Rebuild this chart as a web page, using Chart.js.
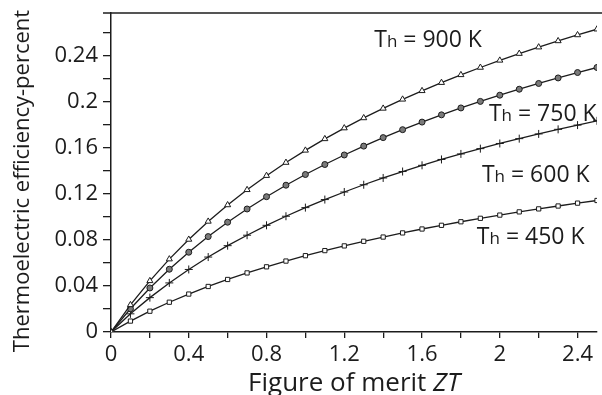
<!DOCTYPE html>
<html>
<head>
<meta charset="utf-8">
<script src="https://cdn.jsdelivr.net/npm/chart.js@4.4.1/dist/chart.umd.min.js"></script>
<style>
  html, body { margin: 0; padding: 0; background: #fff; }
  #wrap { width: 602px; height: 395px; position: relative; }
</style>
</head>
<body>
<div id="wrap"><canvas id="effChart"></canvas></div>
<script>
// Figure of merit ZT (x) and efficiency
const ztValues = [0, 0.1, 0.2, 0.3, 0.4, 0.5, 0.6, 0.7, 0.8, 0.9, 1.0, 1.1, 1.2,
                  1.3, 1.4, 1.5, 1.6, 1.7, 1.8, 1.9, 2.0, 2.1, 2.2, 2.3, 2.4, 2.5];
const eff900 = [0, 0.0236, 0.0445, 0.0634, 0.0805, 0.0962, 0.1105, 0.1237, 0.1360, 0.1474,
                0.1580, 0.1680, 0.1774, 0.1862, 0.1945, 0.2024, 0.2098, 0.2169, 0.2237,
                0.2301, 0.2363, 0.2422, 0.2478, 0.2532, 0.2584, 0.2634];
const eff750 = [0, 0.0202, 0.0383, 0.0546, 0.0694, 0.0830, 0.0955, 0.1070, 0.1177, 0.1277,
                0.1370, 0.1457, 0.1540, 0.1617, 0.1691, 0.1760, 0.1826, 0.1889, 0.1949,
                0.2006, 0.2060, 0.2112, 0.2162, 0.2210, 0.2257, 0.2301];
const eff600 = [0, 0.0158, 0.0299, 0.0427, 0.0544, 0.0652, 0.0751, 0.0842, 0.0928, 0.1007,
                0.1082, 0.1152, 0.1218, 0.1281, 0.1340, 0.1396, 0.1450, 0.1501, 0.1549,
                0.1595, 0.1640, 0.1682, 0.1723, 0.1763, 0.1800, 0.1837];
const eff450 = [0, 0.0095, 0.0181, 0.0259, 0.0330, 0.0396, 0.0457, 0.0514, 0.0567, 0.0617,
                0.0664, 0.0708, 0.0749, 0.0789, 0.0826, 0.0862, 0.0896, 0.0928, 0.0959,
                0.0989, 0.1017, 0.1045, 0.1071, 0.1096, 0.1121, 0.1144];

const seriesNames = ['900 K', '750 K', '600 K', '450 K'];
const xTickLabels = [0, 0.4, 0.8, 1.2, 1.6, 2, 2.4];
const yTickLabels = [0, 0.04, 0.08, 0.12, 0.16, 0.2, 0.24];

const X_MAX = 2.5;
const Y_MAX = 0.2775;
const INK = '#1c1c1c';
const FONT = '"Open Sans", "DejaVu Sans", sans-serif';

function toPoints(values) {
    return ztValues.map((x, i) => ({ x: x, y: values[i] }));
}

function majorLabel(value, majors) {
    const hit = majors.find(m => Math.abs(m - value) < 1e-6);
    return hit === undefined ? '' : String(hit);
}

// major ticks plus a minor tick between each pair, kept inside the axis range,
// and a silent tick at the axis end
function withMinors(majors, max) {
    const step = majors[1] - majors[0];
    const out = [];
    majors.forEach(m => {
        out.push({ value: m });
        const minor = +(m + step / 2).toFixed(4);
        if (minor < max) out.push({ value: minor });
    });
    out.push({ value: max });
    return out;
}

// curve labels, placed in data units (left edge, vertical centre)
const curveLabels = [
    { text: seriesNames[0], x: 1.354, y: 0.254 },
    { text: seriesNames[1], x: 1.944, y: 0.1896 },
    { text: seriesNames[2], x: 1.908, y: 0.1365 },
    { text: seriesNames[3], x: 1.882, y: 0.0826 }
];

const annotatePlugin = {
    id: 'annotate',
    afterDraw(chart) {
        const { ctx, chartArea, scales } = chart;
        ctx.save();

        // top frame line (with its little outer tick)
        ctx.strokeStyle = INK;
        ctx.lineWidth = 1.5;
        ctx.beginPath();
        ctx.moveTo(chartArea.left - 8, chartArea.top);
        ctx.lineTo(chart.width, chartArea.top);
        ctx.stroke();

        // "Th = ... K" labels
        ctx.fillStyle = INK;
        ctx.textBaseline = 'middle';
        ctx.textAlign = 'left';
        curveLabels.forEach(lab => {
            let px = scales.x.getPixelForValue(lab.x);
            const py = scales.y.getPixelForValue(lab.y);
            ctx.font = '23px ' + FONT;
            ctx.fillText('T', px, py);
            px += ctx.measureText('T').width;
            ctx.font = '17px ' + FONT;
            ctx.fillText('h', px, py + 2);
            px += ctx.measureText('h').width;
            ctx.font = '23px ' + FONT;
            ctx.fillText(' = ' + lab.text, px, py);
        });

        // y axis title
        ctx.save();
        ctx.translate(23, 181);
        ctx.rotate(-Math.PI / 2);
        ctx.textAlign = 'center';
        ctx.textBaseline = 'middle';
        ctx.font = '22px ' + FONT;
        ctx.fillText('Thermoelectric efficiency-percent', 0, 0);
        ctx.restore();

        // x axis title with italic ZT
        const part1 = 'Figure of merit ';
        const part2 = 'ZT';
        ctx.textBaseline = 'alphabetic';
        ctx.font = '26px ' + FONT;
        const w1 = ctx.measureText(part1).width;
        ctx.font = 'italic 26px ' + FONT;
        const w2 = ctx.measureText(part2).width;
        const sx = 354 - (w1 + w2) / 2;
        ctx.font = '26px ' + FONT;
        ctx.fillText(part1, sx, 391);
        ctx.font = 'italic 26px ' + FONT;
        ctx.fillText(part2, sx + w1, 391);

        ctx.restore();
    }
};

const lineStyle = {
    borderColor: INK,
    borderWidth: 1.3,
    pointBorderColor: INK,
    pointBorderWidth: 1,
    showLine: true,
    tension: 0
};

// hide the tick mark that sits on the axis end
function tickColour(max) {
    return c => (c.tick && Math.abs(c.tick.value - max) < 1e-6) ? 'rgba(0,0,0,0)' : INK;
}

const ctx = document.getElementById('effChart').getContext('2d');
const effChart = new Chart(ctx, {
    type: 'scatter',
    data: {
        datasets: [
            Object.assign({ label: seriesNames[0], data: toPoints(eff900),
                pointStyle: 'triangle', pointRadius: 3.5, pointBackgroundColor: '#fff' }, lineStyle),
            Object.assign({ label: seriesNames[1], data: toPoints(eff750),
                pointStyle: 'circle', pointRadius: 3, pointBackgroundColor: '#7a7a7a' }, lineStyle),
            Object.assign({ label: seriesNames[2], data: toPoints(eff600),
                pointStyle: 'cross', pointRadius: 4, pointBackgroundColor: INK }, lineStyle),
            Object.assign({ label: seriesNames[3], data: toPoints(eff450),
                pointStyle: 'rect', pointRadius: 3, pointBackgroundColor: '#fff' }, lineStyle)
        ]
    },
    options: {
        responsive: true,
        maintainAspectRatio: false,
        animation: false,
        layout: { padding: { top: 13, right: 3.5, left: 0, bottom: 0 } },
        plugins: {
            legend: { display: false },
            tooltip: { enabled: false }
        },
        scales: {
            x: {
                type: 'linear',
                min: 0,
                max: X_MAX,
                afterFit: scale => {
                    scale.height = 63;
                    scale.paddingLeft = 0;
                    scale.paddingRight = 0;
                },
                afterBuildTicks: scale => { scale.ticks = withMinors(xTickLabels, X_MAX); },
                border: { color: INK, width: 1.5 },
                grid: { drawOnChartArea: false, drawTicks: true, tickLength: 6,
                        color: tickColour(X_MAX), lineWidth: 1.3 },
                ticks: {
                    padding: 4,
                    maxRotation: 0,
                    autoSkip: false,
                    color: INK,
                    font: { family: FONT, size: 22 },
                    callback: v => majorLabel(v, xTickLabels)
                }
            },
            y: {
                type: 'linear',
                min: 0,
                max: Y_MAX,
                afterFit: scale => {
                    scale.width = 111;
                    scale.paddingTop = 0;
                    scale.paddingBottom = 0;
                },
                afterBuildTicks: scale => { scale.ticks = withMinors(yTickLabels, Y_MAX); },
                border: { color: INK, width: 1.5 },
                grid: { drawOnChartArea: false, drawTicks: true, tickLength: 8,
                        color: tickColour(Y_MAX), lineWidth: 1.3 },
                ticks: {
                    padding: 5,
                    autoSkip: false,
                    color: INK,
                    font: { family: FONT, size: 22 },
                    callback: v => majorLabel(v, yTickLabels)
                }
            }
        }
    },
    plugins: [annotatePlugin]
});
</script>
</body>
</html>
